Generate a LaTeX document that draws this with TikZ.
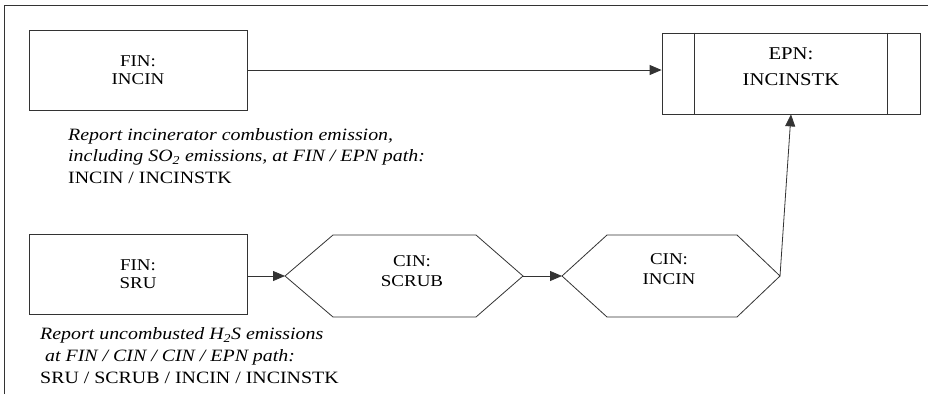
\documentclass[tikz,border=0pt]{standalone}
\usepackage{fontspec}
\setmainfont{Liberation Serif}[FakeStretch=1.15]
\usetikzlibrary{arrows.meta}
\tikzset{
  ln/.style={draw=black!80, line width=0.8pt},
  boxnode/.style={ln, rectangle, minimum width=218pt, minimum height=80pt, inner sep=0pt, align=center, font=\fontsize{16.5}{18}\selectfont},
  epnnode/.style={ln, rectangle, minimum width=258pt, minimum height=81pt, inner sep=0pt},
  lbl/.style={inner sep=0pt, align=center, font=\fontsize{16.5}{20}\selectfont},
  epnlbl/.style={inner sep=0pt, align=center, font=\fontsize{18}{26}\selectfont},
  note/.style={inner sep=0pt, align=left, anchor=west, font=\fontsize{17.3}{21.5}\selectfont},
  arr/.style={ln, -{Triangle[length=12pt, width=10pt]}},
}
\begin{document}
\begin{tikzpicture}[x=1pt, y=-1pt]
\useasboundingbox (0,0) rectangle (928,394);
% frame
\draw[ln] (4,394) -- (4,5) -- (928,5);
% nodes
\node[boxnode] (fin1) at (138,70) {FIN:\\INCIN};
\node[epnnode] (epn) at (791,73.5) {};
\node[epnlbl] (epntext) at (791,67) {EPN:\\INCINSTK};
\draw[ln] (epn.north west) ++(33,0) -- ++(0,81);
\draw[ln] (epn.north east) ++(-33,0) -- ++(0,81);
\node[boxnode] (sru) at (138,274.5) {FIN:\\SRU};
% scrub hexagon
\coordinate (scrubL) at (285,276);
\coordinate (scrubR) at (523,276);
\draw[ln] (scrubL) -- (333,235) -- (476,235) -- (scrubR) -- (476,317) -- (333,317) -- cycle;
\node[lbl] (scrub) at (412,271) {CIN:\\SCRUB};
% incin hexagon
\coordinate (incinL) at (562,276);
\coordinate (incinR) at (780,276);
\draw[ln] (incinL) -- (607,235) -- (737,235) -- (incinR) -- (737,317) -- (607,317) -- cycle;
\node[lbl] (incin) at (669,269) {CIN:\\INCIN};
% notes
\node[note] (note1) at (68,156) {\itshape Report incinerator combustion emission,\\\itshape including SO\textsubscript{2} emissions, at FIN / EPN path:\\INCIN / INCINSTK};
\node[note, font=\fontsize{17.3}{22}\selectfont] (note2) at (40,356) {\itshape Report uncombusted H\textsubscript{2}S emissions\\\itshape\ at FIN / CIN / CIN / EPN path:\\SRU / SCRUB / INCIN / INCINSTK};
% connectors
\draw[arr] (fin1.east) -- (fin1.east -| epn.west);
\draw[arr] (sru.east |- scrubL) -- (scrubL);
\draw[arr] (scrubR) -- (incinL);
\draw[arr] (incinR) -- (epn.south);
\end{tikzpicture}
\end{document}
